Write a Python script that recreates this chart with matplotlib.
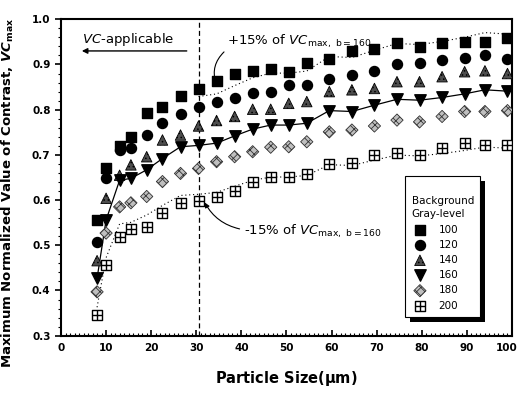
import matplotlib
matplotlib.use("Agg")
import matplotlib.pyplot as plt
from matplotlib.patches import Rectangle
from matplotlib.ticker import MultipleLocator

plt.rcParams["font.family"] = ["DejaVu Sans"]
plt.rcParams["mathtext.fontset"] = "dejavusans"
plt.rcParams["hatch.linewidth"] = 0.6

# particle size (um)
size_um = [8, 10, 13, 15.5, 19, 22.5, 26.5, 30.5, 34.5, 38.5, 42.5, 46.5,
           50.5, 54.5, 59.5, 64.5, 69.5, 74.5, 79.5, 84.5, 89.5, 94, 99]

# maximum normalized contrast per background gray level
vc_100 = [0.556, 0.670, 0.720, 0.740, 0.792, 0.807, 0.830, 0.845, 0.864, 0.878,
          0.886, 0.889, 0.884, 0.903, 0.912, 0.929, 0.934, 0.947, 0.939, 0.948,
          0.950, 0.950, 0.958]
vc_120 = [0.508, 0.648, 0.711, 0.715, 0.744, 0.771, 0.790, 0.805, 0.818, 0.825,
          0.838, 0.840, 0.855, 0.855, 0.869, 0.877, 0.886, 0.900, 0.903, 0.910,
          0.915, 0.921, 0.912]
vc_140 = [0.466, 0.604, 0.655, 0.678, 0.696, 0.733, 0.744, 0.764, 0.776, 0.785,
          0.801, 0.801, 0.814, 0.818, 0.840, 0.844, 0.847, 0.862, 0.862, 0.873,
          0.884, 0.886, 0.880]
vc_160 = [0.427, 0.556, 0.644, 0.648, 0.667, 0.692, 0.718, 0.721, 0.726, 0.742,
          0.757, 0.766, 0.766, 0.770, 0.798, 0.796, 0.810, 0.823, 0.821, 0.827,
          0.835, 0.844, 0.841]
vc_180 = [0.397, 0.527, 0.585, 0.594, 0.608, 0.641, 0.659, 0.670, 0.685, 0.696,
          0.707, 0.717, 0.718, 0.729, 0.751, 0.755, 0.764, 0.777, 0.773, 0.785,
          0.796, 0.796, 0.798]
vc_200 = [0.346, 0.456, 0.519, 0.537, 0.541, 0.571, 0.594, 0.599, 0.606, 0.620,
          0.639, 0.652, 0.652, 0.658, 0.680, 0.683, 0.700, 0.704, 0.700, 0.715,
          0.726, 0.722, 0.722]

gray_levels = ["100", "120", "140", "160", "180", "200"]
limit_size = 30.5   # VC-applicable boundary
band = 0.15         # +/- band around the 160 curve

fig = plt.figure(figsize=(5.2, 3.93), dpi=100)
ax = fig.add_axes([0.1173, 0.1458, 0.8673, 0.8051])

# reference curve for gray level 160 and the +/-15 % band
upper = [v * (1 + band) for v in vc_160]
lower = [v * (1 - band) for v in vc_160]
i0 = size_um.index(limit_size)
ax.plot(size_um, vc_160, color="black", lw=0.9, zorder=2)
ax.plot(size_um[i0:], upper[i0:], color="black", lw=0.8, ls=(0, (1, 2.5)), zorder=2)
ax.plot(size_um, lower, color="black", lw=0.8, ls=(0, (1, 2.5)), zorder=2)
ax.axvline(limit_size, color="black", lw=0.9, ls=(0, (4, 2.5)), zorder=1)

ms = 52
h100 = ax.scatter(size_um, vc_100, marker="s", s=ms, c="black", zorder=3)
h120 = ax.scatter(size_um, vc_120, marker="o", s=ms, c="black", zorder=3)
h140 = ax.scatter(size_um, vc_140, marker="^", s=ms * 1.1, facecolor="0.3",
                  edgecolor="black", hatch="....", lw=0.6, zorder=3)
h160 = ax.scatter(size_um, vc_160, marker="v", s=ms * 1.3, c="black", zorder=3)
h180 = ax.scatter(size_um, vc_180, marker="D", s=ms * 0.75, facecolor="0.75",
                  edgecolor="0.2", hatch="xxxx", lw=0.6, zorder=3)
h200a = ax.scatter(size_um, vc_200, marker="s", s=ms * 0.9, facecolor="white",
                   edgecolor="black", lw=1.0, zorder=3)
h200b = ax.scatter(size_um, vc_200, marker="+", s=ms * 0.9, c="black", lw=1.0, zorder=4)

ax.set_xlim(0, 100)
ax.set_ylim(0.3, 1.0)
ax.xaxis.set_major_locator(MultipleLocator(10))
ax.xaxis.set_minor_locator(MultipleLocator(1))
ax.yaxis.set_major_locator(MultipleLocator(0.1))
ax.yaxis.set_minor_locator(MultipleLocator(0.02))
ax.tick_params(axis="x", which="both", direction="in", top=False, labelsize=7.5)
ax.tick_params(axis="y", which="both", direction="out", right=False, labelsize=7.5)
ax.tick_params(which="major", length=4, width=1.2)
ax.tick_params(which="minor", length=2.5, width=0.8)
ax.tick_params(axis="x", pad=5)
ax.yaxis.set_major_formatter(plt.FuncFormatter(lambda v, p: f"{v:.1f}"))
# the 100 label sits at the figure edge, so it is placed by hand below
ax.xaxis.set_major_formatter(plt.FuncFormatter(lambda v, p: "" if v >= 100 else f"{v:.0f}"))
for sp in ax.spines.values():
    sp.set_linewidth(1.5)
ax.annotate("100", xy=(100, 0), xycoords=("data", "axes fraction"),
            xytext=(4, -5), textcoords="offset points", ha="right", va="top",
            fontsize=7.5, fontweight="bold")

ax.set_xlabel(r"Particle Size($\mathbf{\mu}$m)", fontsize=10.5, fontweight="bold")
ax.xaxis.set_label_coords(0.5, -0.106)
ax.set_ylabel(r"Maximum Normalized Value of Contrast, $\mathbfit{VC}_{\mathbf{max}}$",
              fontsize=9.5, fontweight="bold")
ax.yaxis.set_label_coords(-0.1, 0.45)

# annotations
ax.text(4.7, 0.955, r"$\mathit{VC}$-applicable", fontsize=9.5, va="center")
ax.annotate("", xy=(4.0, 0.93), xytext=(28.5, 0.93),
            arrowprops=dict(arrowstyle="-|>", color="black", lw=1.0, mutation_scale=8))
ax.text(36.8, 0.952, r"+15% of $\mathit{VC}_{\mathrm{max,\ b=160}}$", fontsize=9.5, va="center")
ax.annotate("", xy=(34.6, 0.852), xytext=(36.6, 0.932),
            arrowprops=dict(arrowstyle="-|>", color="black", lw=0.8, mutation_scale=7,
                            connectionstyle="arc3,rad=0.35"))
ax.text(40.6, 0.532, r"-15% of $\mathit{VC}_{\mathrm{max,\ b=160}}$", fontsize=9.5, va="center")
ax.annotate("", xy=(31.6, 0.600), xytext=(40.2, 0.535),
            arrowprops=dict(arrowstyle="-|>", color="black", lw=0.8, mutation_scale=7,
                            connectionstyle="arc3,rad=-0.25"))

leg = ax.legend([h100, h120, h140, h160, h180, (h200a, h200b)], gray_levels,
                title="\nBackground\nGray-level", loc="lower left",
                bbox_to_anchor=(0.752, 0.043), fontsize=7.5, title_fontsize=7.5,
                frameon=True, fancybox=False, edgecolor="black", framealpha=1,
                labelspacing=0.5, handletextpad=1.0, borderpad=0.6,
                handlelength=1.6, alignment="left")
leg.get_title().set_linespacing(1.45)
leg.get_frame().set_linewidth(0.8)
leg.set_zorder(6)

fig.canvas.draw()
for lbl in ax.get_xticklabels() + ax.get_yticklabels():
    lbl.set_fontweight("bold")

# solid drop shadow behind the legend box
bb = leg.get_window_extent().transformed(ax.transAxes.inverted())
dx, dy = 5 / 451.0, 5 / 316.4
ax.add_patch(Rectangle((bb.x0 + dx, bb.y0 - dy), bb.width, bb.height,
                       transform=ax.transAxes, facecolor="black", edgecolor="none",
                       zorder=5, clip_on=False))

fig.savefig("out.png", dpi=100)
